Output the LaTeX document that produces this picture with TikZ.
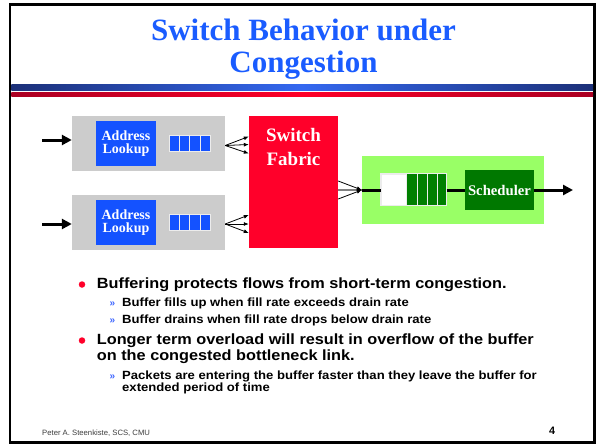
\documentclass[tikz,border=0pt]{standalone}
\usepackage{fontspec}
\setmainfont{Liberation Serif}
\setsansfont{Liberation Sans}
\newfontfamily\bulletfont[FakeStretch=1.1]{Liberation Sans}
\usetikzlibrary{arrows.meta,calc}

\definecolor{titleblue}{RGB}{26,92,255}
\definecolor{lookupblue}{RGB}{20,82,255}
\definecolor{fabricred}{RGB}{255,0,42}
\definecolor{cardgray}{RGB}{204,204,204}
\definecolor{lightgreen}{RGB}{153,255,102}
\definecolor{schedgreen}{RGB}{0,120,0}
\definecolor{cellgreen}{RGB}{0,128,0}
\definecolor{navyband}{RGB}{28,48,120}
\definecolor{brightband}{RGB}{52,104,240}
\definecolor{darkredband}{RGB}{170,0,35}
\definecolor{brightredband}{RGB}{255,0,40}
\definecolor{guillblue}{RGB}{60,100,255}
\definecolor{footgray}{RGB}{60,60,60}

\tikzset{
  card/.style={rectangle, fill=cardgray, inner sep=0pt, minimum width=153pt, minimum height=55pt},
  lookup/.style={rectangle, fill=lookupblue, inner sep=0pt, minimum width=60pt, minimum height=45pt,
    text=white, align=center, font=\fontsize{14}{13}\selectfont\bfseries},
  bluequeue/.style={rectangle, fill=lookupblue, draw=white!85!gray, line width=1pt, inner sep=0pt,
    minimum width=41pt, minimum height=16pt},
  cellline/.style={draw=white!85!gray, line width=1pt},
  fanarrow/.style={line width=0.8pt, -{Latex[length=5pt,width=4pt]}},
  thickarrow/.style={line width=3pt, -{Triangle[length=10pt,width=10pt]}},
  thickline/.style={line width=3pt},
  bulletmain/.style={anchor=base west, inner sep=0pt, font=\bulletfont\bfseries\fontsize{14.8}{15}\selectfont},
  bulletsub/.style={anchor=base west, inner sep=0pt, font=\bulletfont\bfseries\fontsize{11.9}{12}\selectfont},
  guill/.style={anchor=base west, inner sep=0pt, text=guillblue, font=\sffamily\bfseries\fontsize{10}{10}\selectfont},
  reddot/.style={circle, fill=fabricred, inner sep=0pt, minimum size=6.5pt},
}

\begin{document}
\begin{tikzpicture}[x=1pt,y=-1pt]
\useasboundingbox (0,0) rectangle (598,445);

% slide frame
\draw[line width=2.5pt] (10,4.5) rectangle (594.5,442.5);

% title
\node[inner sep=0pt, anchor=base, text=titleblue, font=\fontsize{31}{31}\selectfont\bfseries]
  (title1) at (303.5,40) {Switch Behavior under};
\node[inner sep=0pt, anchor=base, text=titleblue, font=\fontsize{31}{31}\selectfont\bfseries]
  (title2) at (303.5,72) {Congestion};

% header rules
\shade[left color=navyband, right color=navyband, middle color=brightband]
  (11.3,84.7) rectangle (593.2,90.7);
\shade[left color=darkredband, right color=darkredband, middle color=brightredband]
  (11.3,92.8) rectangle (593.2,96);

% input ports
\node[card] (card1) at (148.5,143.5) {};
\node[card] (card2) at (148.5,222.5) {};
\node[lookup] (look1) at (126,143.5) {Address\\Lookup};
\node[lookup] (look2) at (126,222.5) {Address\\Lookup};
\node[bluequeue] (q1) at (189.5,143) {};
\node[bluequeue] (q2) at (189.5,222) {};
\foreach \q in {q1,q2}
  \foreach \f in {0.25,0.5,0.75}
    \draw[cellline] ($(\q.south west)!\f!(\q.south east)$) -- ($(\q.north west)!\f!(\q.north east)$);

% incoming links
\coordinate (in1) at (42,140);
\coordinate (in2) at (42,224);
\draw[thickarrow] (in1) -- (in1 -| card1.west);
\draw[thickarrow] (in2) -- (in2 -| card2.west);

% switch fabric
\node[rectangle, fill=fabricred, inner sep=0pt, minimum width=89pt, minimum height=132pt]
  (fabric) at (293.5,182) {};
\node[inner sep=0pt, text=white, align=center, anchor=base,
  font=\fontsize{19}{23.4}\selectfont\bfseries] (fabrictxt) at (293.5,165.2) {Switch\\Fabric};

% fan-out into the fabric
\coordinate (f1) at ($(card1.east)+(0,2)$);
\coordinate (f2) at ($(card2.east)+(0,1.5)$);
\foreach \d in {-9,-1,8}
  \draw[fanarrow] (f1) -- ($(fabric.west |- f1)+(0,\d)$);
\foreach \d in {-9,0,9}
  \draw[fanarrow] (f2) -- ($(fabric.west |- f2)+(0,\d)$);

% output port
\node[rectangle, fill=lightgreen, inner sep=0pt, minimum width=182pt, minimum height=68pt]
  (outport) at (453,190) {};
\node[rectangle, fill=white, draw=white!85!gray, line width=1pt, inner sep=0pt,
  minimum width=65pt, minimum height=31pt] (gq) at (413.5,189.5) {};
\fill[cellgreen] ($(gq.south west)!0.4!(gq.south east)$) rectangle (gq.north east);
\foreach \f in {0.4,0.554,0.708,0.862}
  \draw[cellline] ($(gq.south west)!\f!(gq.south east)$) -- ($(gq.north west)!\f!(gq.north east)$);
\draw[draw=white!85!gray, line width=1pt] (gq.south west) rectangle (gq.north east);
\node[rectangle, fill=schedgreen, inner sep=0pt, minimum width=69pt, minimum height=40pt,
  text=white, font=\fontsize{14.7}{15}\selectfont\bfseries] (sched) at (499.5,190) {Scheduler};

% fabric to output port
\coordinate (merge) at (outport.west);
\draw[line width=1.6pt, gray] ($(fabric.east |- merge)$) -- (merge);
\draw[fanarrow] ($(fabric.east |- merge)+(0,-9)$) -- (merge);
\draw[fanarrow] ($(fabric.east |- merge)+(0,9)$) -- (merge);
\draw[thickline] (merge) -- (merge -| gq.west);
\draw[thickline] (gq.east |- sched.west) -- (sched.west);
\coordinate (outlink) at (573,190);
\draw[thickarrow] (sched.east) -- (outlink);

% bullet list
\node[reddot] (dot1) at (82,284.5) {};
\node[bulletmain] (b1) at (96.7,288.3) {Buffering protects flows from short-term congestion.};
\node[guill] (g1) at (109.5,306.7) {»};
\node[bulletsub] (b1a) at (122,306.7) {Buffer fills up when fill rate exceeds drain rate};
\node[guill] (g2) at (109.5,323.3) {»};
\node[bulletsub] (b1b) at (122,323.3) {Buffer drains when fill rate drops below drain rate};
\node[reddot] (dot2) at (82,340.5) {};
\node[bulletmain] (b2l1) at (96.7,344.3) {Longer term overload will result in overflow of the buffer};
\node[bulletmain] (b2l2) at (96.7,360) {on the congested bottleneck link.};
\node[guill] (g3) at (109.5,379.5) {»};
\node[bulletsub] (b2al1) at (122,379.5) {Packets are entering the buffer faster than they leave the buffer for};
\node[bulletsub] (b2al2) at (122,391) {extended period of time};

% footer
\node[anchor=base west, inner sep=0pt, text=footgray, font=\sffamily\fontsize{7.7}{8}\selectfont]
  (author) at (42,435) {Peter A. Steenkiste, SCS, CMU};
\node[anchor=base west, inner sep=0pt, font=\sffamily\bfseries\fontsize{10.8}{11}\selectfont]
  (pagenum) at (549,434) {4};
\end{tikzpicture}
\end{document}
